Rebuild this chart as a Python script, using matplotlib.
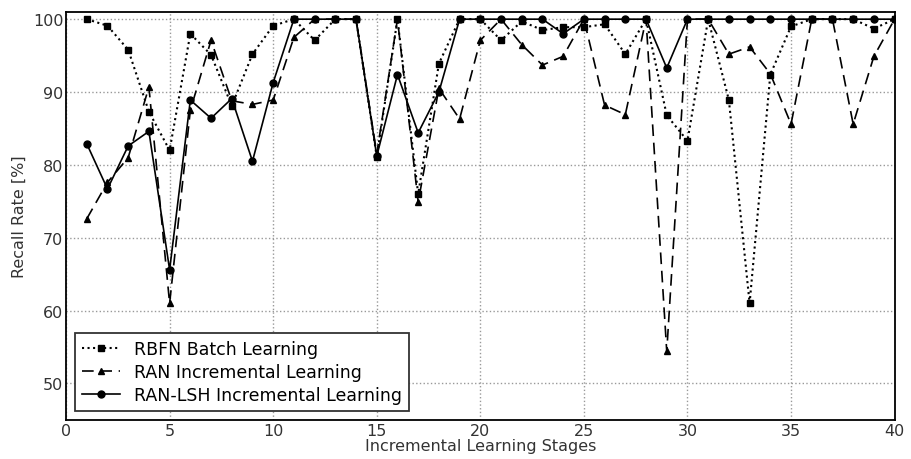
import numpy as np
import matplotlib
matplotlib.use('Agg')
from matplotlib import pyplot as plt

stages = list(range(1, 41))

rbfn = [100, 99.1, 95.8, 87.3, 82.0, 98.0, 95.1, 88.1, 95.2, 99.1,
        100, 97.1, 100, 100, 81.1, 100, 76.0, 93.9, 100, 100,
        97.1, 99.7, 98.5, 98.9, 98.9, 99.3, 95.2, 100, 86.8, 83.3,
        100, 88.9, 61.0, 92.4, 99.0, 100, 100, 100, 98.7, 100]

ran = [72.6, 77.6, 81.0, 90.7, 61.0, 87.5, 97.1, 88.8, 88.3, 88.9,
       97.5, 100, 100, 100, 81.5, 100, 74.9, 90.5, 86.3, 97.1,
       100, 96.5, 93.7, 94.9, 100, 88.2, 86.9, 100, 54.4, 100,
       100, 95.2, 96.2, 92.5, 85.6, 100, 100, 85.6, 94.9, 100]

ranlsh = [82.9, 76.7, 82.6, 84.6, 65.6, 88.9, 86.4, 89.1, 80.5, 91.3,
          100, 100, 100, 100, 81.2, 92.4, 84.4, 90.0, 100, 100,
          100, 100, 100, 98.0, 100, 100, 100, 100, 93.3, 100,
          100, 100, 100, 100, 100, 100, 100, 100, 100, 100]

fig = plt.figure(figsize=(9.11, 4.6), dpi=100)
ax = fig.add_axes([0.0725, 0.085, 0.9095, 0.887])

ax.plot(stages, rbfn, color='black', linestyle=':', linewidth=1.5,
        marker='s', markersize=5, label='RBFN Batch Learning')
ax.plot(stages, ran, color='black', linestyle=(0, (7, 4)), linewidth=1.2,
        marker='^', markersize=5, label='RAN Incremental Learning')
ax.plot(stages, ranlsh, color='black', linestyle='-', linewidth=1.2,
        marker='o', markersize=5, label='RAN-LSH Incremental Learning')

ax.set_xlim(0, 40)
ax.set_ylim(45, 101)
ax.set_xticks(range(0, 41, 5))
ax.set_yticks(range(50, 101, 10))
ax.tick_params(labelsize=11.5, length=0, pad=2, labelcolor='#333333')
ax.grid(True, color='#999999', linestyle=':', linewidth=1)
for s in ax.spines.values():
    s.set_linewidth(1.3)

ax.set_ylabel('Recall Rate [%]', fontsize=11.5, color='#333333')
ax.set_xlabel('Incremental Learning Stages', fontsize=11.5, color='#333333', labelpad=0)

leg = ax.legend(loc='lower left', fontsize=12.5, fancybox=False, framealpha=1,
                edgecolor='#333333', handlelength=2.2, borderaxespad=0.5,
                labelspacing=0.3)
leg.get_frame().set_linewidth(1.3)

plt.savefig('out.png', dpi=100)
